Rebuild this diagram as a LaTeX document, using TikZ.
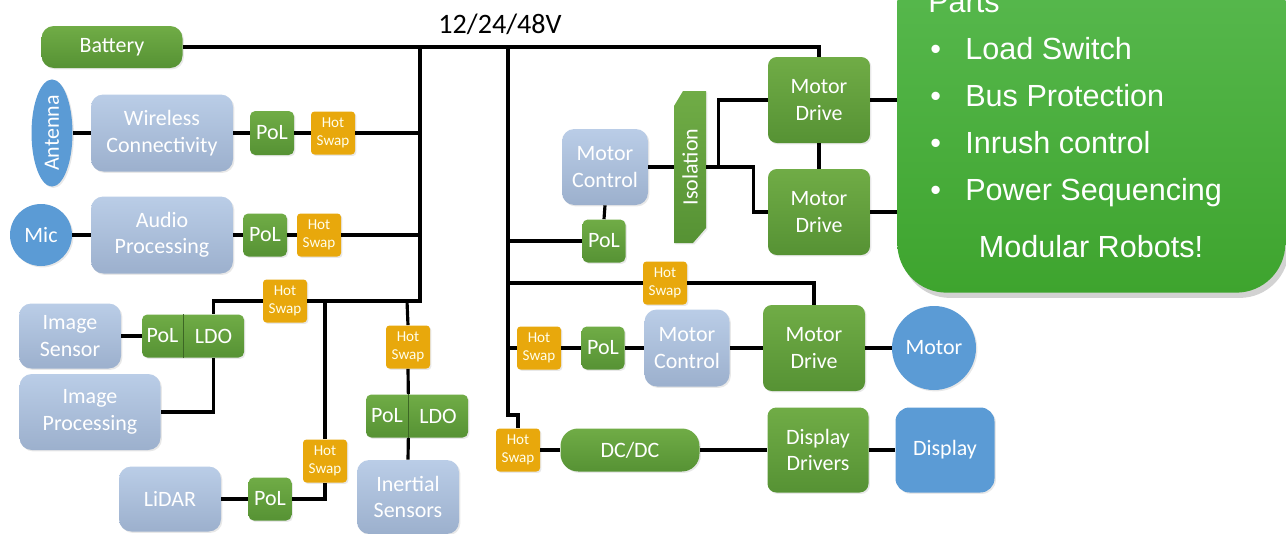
\documentclass[tikz,border=0pt]{standalone}
\usepackage{fontspec}
\setmainfont{Carlito}
\newfontfamily\calloutfont{Liberation Sans}
\usetikzlibrary{shapes.geometric, shadows}
\definecolor{pwrgreenlt}{RGB}{112,172,70}
\definecolor{pwrgreendk}{RGB}{86,146,52}
\definecolor{sensgraylt}{RGB}{186,205,231}
\definecolor{sensgraydk}{RGB}{156,176,205}
\definecolor{endblue}{RGB}{91,155,213}
\definecolor{swapgold}{RGB}{232,168,12}
\definecolor{partslt}{RGB}{94,190,86}
\definecolor{partsdk}{RGB}{62,164,46}

\tikzset{
  wh/.style 2 args={minimum width=#1*0.02cm, minimum height=#2*0.02cm},
  blk/.style={inner sep=0pt, align=center, text=white, font=\fontsize{12.5}{15}\selectfont},
  softshadow/.style={drop shadow={opacity=0.18, shadow xshift=0.8pt, shadow yshift=-0.8pt}},
  pwr/.style={blk, softshadow, rounded corners=3pt, top color=pwrgreenlt, bottom color=pwrgreendk},
  sens/.style={blk, softshadow, rounded corners=7pt, top color=sensgraylt, bottom color=sensgraydk},
  endpt/.style={blk, softshadow, fill=endblue},
  hswap/.style={blk, softshadow, rounded corners=2pt, fill=swapgold, wh={44}{43},
    font=\fontsize{8.6}{10}\selectfont, text=white!92!yellow},
  wire/.style={line width=1.8pt},
  calltext/.style={text=white, inner sep=0pt, font=\calloutfont\fontsize{17.4}{20}\selectfont}
}

\begin{document}
\begin{tikzpicture}[x=0.02cm, y=-0.02cm]
  % Frame
  \clip (0,0) rectangle (1286,534);
  \fill[white] (0,0) rectangle (1286,534);

  % Supply
  \node[pwr, rounded corners=7pt, wh={141}{42}] (battery) at (112,47) {Battery};
  \node[font=\fontsize{16}{19}\selectfont, inner sep=0pt] (vbus) at (500,24) {12/24/48V};

  % Wireless and audio
  \node[endpt, ellipse, wh={41}{100}] (antenna) at (52,133) {\rotatebox{90}{Antenna}};
  \node[sens, wh={142}{77}] (wireless) at (162,133) {Wireless\\Connectivity};
  \node[pwr, wh={44}{44}] (polA) at (272,133) {PoL};
  \node[hswap] (hsA) at (333,133) {Hot\\Swap};
  \node[endpt, circle, minimum size=62*0.02cm] (mic) at (41,235) {Mic};
  \node[sens, wh={142}{77}] (audio) at (162,235) {Audio\\Processing};
  \node[pwr, wh={44}{43}] (polB) at (265,235) {PoL};
  \node[hswap] (hsB) at (319,235) {Hot\\Swap};

  % Imaging
  \node[sens, wh={102}{65}] (imgsens) at (70,336) {Image\\Sensor};
  \node[pwr, wh={102}{43}] (regC) at (193,336) {};
  \node[blk, wh={41}{43}] (polC) at (162.5,336) {PoL};
  \node[blk, wh={61}{43}] (ldoC) at (213.5,336) {LDO};
  \draw[pwrgreendk!70!black, line width=0.5pt] (polC.north east) -- (polC.south east);
  \node[sens, wh={141}{76}] (imgproc) at (90,412) {Image\\Processing};
  \node[hswap] (hsC) at (285,301) {Hot\\Swap};

  % LiDAR
  \node[sens, wh={102}{65}] (lidar) at (170,499) {LiDAR};
  \node[pwr, wh={43}{43}] (polD) at (270,499) {PoL};
  \node[hswap] (hsD) at (325,461) {Hot\\Swap};

  % Inertial
  \node[hswap] (hsE) at (408,347) {Hot\\Swap};
  \node[pwr, wh={102}{43}] (regE) at (417,416) {};
  \node[blk, wh={42}{43}] (polE) at (387,416) {PoL};
  \node[blk, wh={60}{43}] (ldoE) at (438,416) {LDO};
  \draw[pwrgreendk!70!black, line width=0.5pt] (polE.north east) -- (polE.south east);
  \node[sens, wh={102}{74}] (inertial) at (408,497) {Inertial\\Sensors};

  % Motor pair
  \node[sens, wh={86}{76}] (ctlA) at (605,167) {Motor\\Control};
  \node[pwr, wh={43}{43}] (polM) at (604,241) {PoL};
  \shade[top color=pwrgreenlt, bottom color=pwrgreendk, softshadow]
    (683,91) -- (706,91) -- (706,228) -- (693,243) -- (674,243) -- (674,106) -- cycle;
  \node[blk, wh={32}{152}] (iso) at (690,167) {\rotatebox{90}{Isolation}};
  \node[pwr, rounded corners=5pt, wh={102}{86}] (drvA) at (819,100) {Motor\\Drive};
  \node[pwr, rounded corners=5pt, wh={102}{86}] (drvB) at (819,212) {Motor\\Drive};

  % Single motor
  \node[hswap] (hsF) at (665,283) {Hot\\Swap};
  \node[hswap] (hsG) at (539,348) {Hot\\Swap};
  \node[pwr, wh={43}{43}] (polF) at (603,348) {PoL};
  \node[sens, wh={85}{77}] (ctlB) at (687,348) {Motor\\Control};
  \node[pwr, rounded corners=5pt, wh={102}{86}] (drvC) at (814,348) {Motor\\Drive};
  \node[endpt, circle, minimum size=84*0.02cm] (motor) at (934,348) {Motor};

  % Display
  \node[hswap] (hsH) at (518,450) {Hot\\Swap};
  \node[pwr, rounded corners=10pt, wh={139}{43}] (dcdc) at (630,450) {DC/DC};
  \node[pwr, rounded corners=5pt, wh={101}{85}] (disdrv) at (818,450) {Display\\Drivers};
  \node[endpt, rounded corners=8pt, wh={99}{85}] (display) at (945,450) {Display};

  % Bus
  \coordinate (busA) at (420,47);
  \coordinate (busB) at (508,47);
  \coordinate (tapC) at (420,301);
  \coordinate (tapD) at (325,301);
  \coordinate (tapE) at (407,301);
  \coordinate (tapH) at (508,415);
  \coordinate (partsedge) at (905,0);

  \draw[wire] (battery.east) -| (drvA.north);
  \draw[wire] (busA) -- (tapC) -- (hsC.east);
  \draw[wire] (busB) -- (tapH) -| (hsH.north);

  % Left branches
  \draw[wire] (antenna.east) -- (wireless.west);
  \draw[wire] (wireless.east) -- (polA.west);
  \draw[wire] (polA.east) -- (hsA.west);
  \draw[wire] (hsA.east) -- (hsA.east -| busA);
  \draw[wire] (mic.east) -- (audio.west);
  \draw[wire] (audio.east) -- (polB.west);
  \draw[wire] (polB.east) -- (hsB.west);
  \draw[wire] (hsB.east) -- (hsB.east -| busA);
  \draw[wire] (hsC.west) -| (ldoC.north);
  \draw[wire] (imgsens.east) -- (polC.west);
  \draw[wire] (ldoC.south) |- (imgproc.east);
  \draw[wire] (tapD) -- (hsD.north);
  \draw[wire] (hsD.south) |- (polD.east);
  \draw[wire] (polD.west) -- (lidar.east);
  \draw[wire] (tapE) -- (hsE.north);
  \draw[wire] (hsE.south) -- (polE.north east);
  \draw[wire] (polE.south east) -- (inertial.north);

  % Right branches
  \draw[wire] (polM.west) -- (polM.west -| busB);
  \draw[wire] (ctlA.south) -- (polM.north);
  \draw[wire] (ctlA.east) -- (iso.west);
  \draw[wire] (iso.east) -- ++(12,0) |- (drvA.west);
  \draw[wire] (iso.east) -- ++(47,0) |- (drvB.west);
  \draw[wire] (drvA.south) -- (drvB.north);
  \draw[wire] (drvA.east) -- (drvA.east -| partsedge);
  \draw[wire] (drvB.east) -- (drvB.east -| partsedge);
  \draw[wire] (hsF.west) -- (hsF.west -| busB);
  \draw[wire] (hsF.east) -| (drvC.north);
  \draw[wire] (hsG.west) -- (hsG.west -| busB);
  \draw[wire] (hsG.east) -- (polF.west);
  \draw[wire] (polF.east) -- (ctlB.west);
  \draw[wire] (ctlB.east) -- (drvC.west);
  \draw[wire] (drvC.east) -- (motor.west);
  \draw[wire] (hsH.east) -- (dcdc.west);
  \draw[wire] (dcdc.east) -- (disdrv.west);
  \draw[wire] (disdrv.east) -- (display.west);

  % Parts callout
  \node[anchor=south west, rounded corners=28pt, top color=partslt, bottom color=partsdk,
    drop shadow={opacity=0.35, shadow xshift=2pt, shadow yshift=-3pt},
    wh={388}{400}] (parts) at (897,293) {};
  \node[calltext, anchor=base west] (partsT) at (928,12) {Parts};
  \node[calltext, anchor=base west] (itemA) at (930,59) {\makebox[0.7cm][l]{•}Load Switch};
  \node[calltext, anchor=base west] (itemB) at (930,106) {\makebox[0.7cm][l]{•}Bus Protection};
  \node[calltext, anchor=base west] (itemC) at (930,153) {\makebox[0.7cm][l]{•}Inrush control};
  \node[calltext, anchor=base west] (itemD) at (930,200) {\makebox[0.7cm][l]{•}Power Sequencing};
  \node[calltext, anchor=base] (modular) at (1091,257) {Modular Robots!};
\end{tikzpicture}
\end{document}
